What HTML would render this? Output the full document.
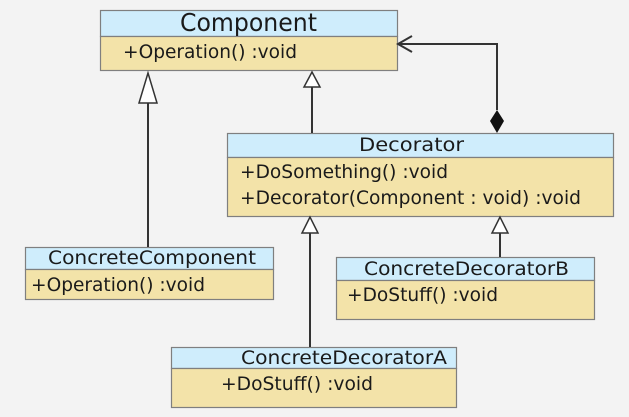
<!DOCTYPE html>
<html><head><meta charset="utf-8"><style>html,body{margin:0;padding:0;background:#f3f3f3}svg{display:block}</style></head>
<body>
<svg width="629" height="417" viewBox="0 0 629 417" xmlns="http://www.w3.org/2000/svg" font-family="DejaVu Sans, Liberation Sans, sans-serif" fill="#1a1a1a">
<rect width="629" height="417" fill="#f3f3f3"/>
<g stroke="#7f7f7f" stroke-width="1.2">
<rect x="100.5" y="10.5" width="297" height="26" fill="#cfedfc"/>
<rect x="100.5" y="36.5" width="297" height="34" fill="#f3e3a9"/>
<rect x="227.5" y="133.5" width="386" height="24" fill="#cfedfc"/>
<rect x="227.5" y="157.5" width="386" height="59" fill="#f3e3a9"/>
<rect x="25.5" y="247.5" width="248" height="22" fill="#cfedfc"/>
<rect x="25.5" y="269.5" width="248" height="30" fill="#f3e3a9"/>
<rect x="336.5" y="257.5" width="258" height="23" fill="#cfedfc"/>
<rect x="336.5" y="280.5" width="258" height="39" fill="#f3e3a9"/>
<rect x="171.5" y="347.5" width="285" height="21" fill="#cfedfc"/>
<rect x="171.5" y="368.5" width="285" height="39" fill="#f3e3a9"/>
</g>
<g stroke="#333" stroke-width="2" fill="none">
<line x1="148" y1="103" x2="148" y2="247"/>
<line x1="312" y1="87" x2="312" y2="133"/>
<line x1="310" y1="233" x2="310" y2="347"/>
<line x1="500" y1="233" x2="500" y2="257"/>
<polyline points="497,110 497,44 398,44"/>
<polyline points="412,36 398,44 412,52"/>
</g>
<g stroke="#333" stroke-width="1.5" fill="#fff">
<polygon points="148,73 139,103 157,103"/>
<polygon points="312,72 304,87 320,87"/>
<polygon points="310,217 302,233 318,233"/>
<polygon points="500,217 492,233 508,233"/>
</g>
<polygon points="497,110 504,121 497,133 490,121" fill="#111"/>
<g font-size="19">
<text x="180" y="31" font-size="25" textLength="137" lengthAdjust="spacingAndGlyphs">Component</text>
<text x="123" y="58" textLength="174" lengthAdjust="spacingAndGlyphs">+Operation() :void</text>
<text x="359" y="151" textLength="105" lengthAdjust="spacingAndGlyphs">Decorator</text>
<text x="240" y="178" textLength="208" lengthAdjust="spacingAndGlyphs">+DoSomething() :void</text>
<text x="240" y="204" textLength="341" lengthAdjust="spacingAndGlyphs">+Decorator(Component : void) :void</text>
<text x="48" y="264" textLength="208" lengthAdjust="spacingAndGlyphs">ConcreteComponent</text>
<text x="31" y="291" textLength="174" lengthAdjust="spacingAndGlyphs">+Operation() :void</text>
<text x="364" y="275" textLength="205" lengthAdjust="spacingAndGlyphs">ConcreteDecoratorB</text>
<text x="347" y="301" textLength="151" lengthAdjust="spacingAndGlyphs">+DoStuff() :void</text>
<text x="241" y="364" textLength="206" lengthAdjust="spacingAndGlyphs">ConcreteDecoratorA</text>
<text x="221" y="390" textLength="152" lengthAdjust="spacingAndGlyphs">+DoStuff() :void</text>
</g>
</svg>
</body></html>
